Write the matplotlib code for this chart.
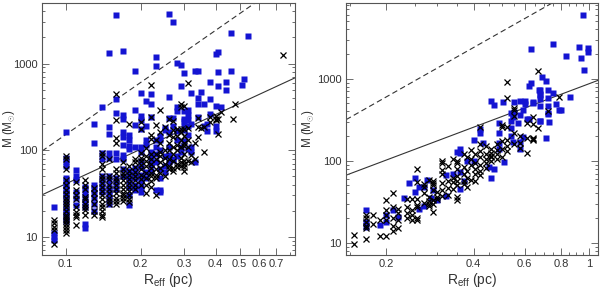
import matplotlib
matplotlib.use("Agg")
import matplotlib.pyplot as plt
from matplotlib.ticker import FixedLocator, NullFormatter

# --- data: (R_eff [pc], [M values]) grouped by radius ---
left_blue = [
    (0.09, [22, 11, 10, 9.2]),
    (0.10, [163, 82, 72, 66, 48, 44, 40, 37, 33, 30, 27, 24, 21, 19, 17, 15]),
    (0.11, [59, 50, 45, 33, 28, 23]),
    (0.12, [38, 33, 29, 25, 22, 14, 12.5]),
    (0.13, [200, 120, 40, 36, 32, 28, 24, 20]),
    (0.14, [314, 93, 80, 50, 44, 38, 33]),
    (0.15, [1320, 184, 155, 93, 82, 50, 44, 38, 34, 30, 27, 24]),
    (0.16, [3660, 390, 270, 92, 80, 48, 42, 36]),
    (0.17, [1390, 256, 228, 160, 140, 115, 88, 78, 60, 50]),
    (0.18, [150, 130, 112, 102, 58, 50, 44, 38, 30, 23]),
    (0.19, [810, 287, 196, 110, 62, 55, 48, 40, 35]),
    (0.20, [455, 245, 220, 175, 110, 96, 75, 64, 52, 44, 38, 33]),
    (0.21, [365, 190, 130, 115, 56, 48]),
    (0.22, [445, 340, 240, 96, 85, 77, 67, 58]),
    (0.23, [1190, 925, 130, 110, 90, 72, 35]),
    (0.24, [144, 130, 100, 60, 48, 35, 33]),
    (0.25, [180, 170, 85, 65, 56]),
    (0.26, [3750, 416, 236, 160, 110, 88, 72]),
    (0.27, [2990, 236, 190, 80, 76]),
    (0.28, [1010, 315, 280, 165, 130, 85]),
    (0.29, [965, 555, 110, 96]),
    (0.30, [770, 285, 230, 215, 190, 170, 128]),
    (0.31, [290, 255, 220, 190, 150, 103]),
    (0.32, [460, 200, 110, 96]),
    (0.33, [830, 73]),
    (0.34, [830, 405, 345, 240]),
    (0.35, [470]),
    (0.36, [340, 190]),
    (0.37, [200, 165]),
    (0.38, [605, 390, 260]),
    (0.40, [1290, 320, 190, 165]),
    (0.41, [1350, 790, 555]),
    (0.42, [315]),
    (0.44, [620, 490]),
    (0.46, [2270, 810]),
    (0.51, [565]),
    (0.52, [670]),
    (0.54, [2100]),
]

left_black = [
    (0.09, [15.5, 14.3, 13.1, 11.9, 8.3]),
    (0.10, [86, 78, 60, 45, 40, 35, 31, 28, 26, 24, 22, 20, 18, 17, 16, 15, 14, 13, 12, 11]),
    (0.11, [43, 35, 30, 27, 22, 19.5, 17.8, 16.8, 13.7]),
    (0.12, [45, 40, 36, 29, 27, 24, 22, 20.5, 18]),
    (0.13, [37, 32, 28, 24, 20, 18]),
    (0.14, [93, 85, 70, 60, 50, 46, 42, 38, 34, 30, 27, 24, 22, 20, 18, 17]),
    (0.15, [80, 50, 46, 40, 36, 32, 28, 26, 24]),
    (0.16, [445, 224, 139, 121, 60, 54, 48, 44, 40, 36, 32, 28, 26, 24]),
    (0.17, [72, 60, 55, 50, 45, 40, 36, 32, 30, 28, 26]),
    (0.18, [200, 66, 58, 52, 46, 42, 38, 34, 30, 27, 25]),
    (0.19, [80, 72, 64, 56, 50, 45, 40, 36]),
    (0.20, [210, 175, 92, 82, 75, 68, 60, 52, 46, 40]),
    (0.21, [105, 85, 75, 65, 55, 48, 40, 32]),
    (0.22, [570, 240, 150, 135, 90, 80, 70, 62, 55, 50, 44, 38]),
    (0.23, [195, 130, 90, 80, 60, 52, 48, 30]),
    (0.24, [292, 160, 120, 95, 85, 72, 62, 55]),
    (0.25, [185, 100, 82, 70, 50]),
    (0.26, [230, 150, 120, 100, 80, 66, 60]),
    (0.27, [215, 170, 140, 110, 90, 75, 62, 58]),
    (0.28, [175, 145, 115, 100, 70, 64]),
    (0.29, [345, 315, 175, 160, 130, 110, 82, 72, 66]),
    (0.30, [320, 175, 145, 120, 112, 90, 75, 70, 63, 58]),
    (0.31, [595, 180, 130, 110, 75]),
    (0.32, [88, 72]),
    (0.33, [120, 80]),
    (0.34, [235, 185, 140]),
    (0.35, [180]),
    (0.36, [185, 94]),
    (0.38, [240, 210]),
    (0.40, [250, 230, 220]),
    (0.41, [230, 155]),
    (0.42, [275]),
    (0.47, [230]),
    (0.48, [340]),
    (0.745, [1260]),
]

right_blue = [
    (0.17, [25, 18, 15.4]),
    (0.19, [16.4]),
    (0.20, [22, 18]),
    (0.21, [25]),
    (0.22, [20.5]),
    (0.23, [34.8]),
    (0.24, [53]),
    (0.25, [62.5, 41.7]),
    (0.26, [48, 26]),
    (0.27, [48, 28]),
    (0.276, [58]),
    (0.286, [35.5]),
    (0.29, [44]),
    (0.30, [33]),
    (0.32, [68, 37]),
    (0.34, [70]),
    (0.35, [128]),
    (0.36, [141, 123, 73, 45]),
    (0.37, [57]),
    (0.38, [99]),
    (0.40, [180, 100]),
    (0.42, [242, 216]),
    (0.43, [166]),
    (0.45, [84]),
    (0.46, [540, 62]),
    (0.47, [480, 79]),
    (0.49, [290, 220, 163, 138]),
    (0.505, [515]),
    (0.51, [98]),
    (0.54, [380, 310, 249, 200]),
    (0.545, [355, 345, 170]),
    (0.55, [515, 393]),
    (0.57, [286]),
    (0.58, [530, 360, 170, 138]),
    (0.59, [415, 196]),
    (0.60, [540, 490]),
    (0.61, [320]),
    (0.62, [815, 320]),
    (0.63, [2320, 880]),
    (0.64, [515, 500]),
    (0.67, [740]),
    (0.68, [730, 645, 630, 565, 470, 310, 308]),
    (0.69, [1060]),
    (0.71, [945, 190]),
    (0.72, [720, 590, 465, 385, 375]),
    (0.73, [300]),
    (0.75, [2670, 680]),
    (0.77, [490]),
    (0.79, [420]),
    (0.80, [415]),
    (0.83, [1890]),
    (0.86, [600]),
    (0.92, [2430]),
    (0.94, [1790]),
    (0.95, [6040]),
    (0.96, [1280]),
    (0.99, [2390, 2130]),
]

right_black = [
    (0.155, [12.4, 9.7]),
    (0.17, [22, 20, 18, 16, 15, 11]),
    (0.18, [22, 17]),
    (0.19, [19, 12]),
    (0.20, [33, 25, 22, 19, 12]),
    (0.21, [41, 27, 20, 16, 14]),
    (0.22, [26, 23, 19, 15]),
    (0.235, [34, 27, 23, 20]),
    (0.245, [34, 25, 22, 19]),
    (0.255, [80, 55, 34, 29, 27, 20, 19]),
    (0.27, [52, 48, 40, 31]),
    (0.28, [58, 36, 32, 30, 28]),
    (0.29, [57, 54, 51, 44, 33, 30, 24]),
    (0.30, [42, 36, 34]),
    (0.31, [100, 93, 78, 69, 53, 44, 37]),
    (0.325, [87, 57, 47, 38]),
    (0.34, [104, 62, 55, 45]),
    (0.35, [100, 93, 80, 66, 57, 50, 36, 33]),
    (0.37, [120, 85, 70, 57, 52]),
    (0.38, [110, 75, 62, 48]),
    (0.39, [135, 105, 88, 58]),
    (0.405, [120, 93, 80, 70, 57]),
    (0.42, [255, 160, 130, 110, 90, 75, 68]),
    (0.44, [150, 120, 105, 95, 82]),
    (0.46, [140, 125, 115, 110, 100]),
    (0.48, [160, 135, 120, 105]),
    (0.50, [270, 255, 175, 140, 112]),
    (0.52, [920, 576, 255, 180, 150, 130]),
    (0.55, [435, 415, 350, 220, 160]),
    (0.58, [200, 165, 145]),
    (0.61, [286, 190, 123]),
    (0.64, [345, 280, 190, 187, 180]),
    (0.665, [1260, 250]),
    (0.72, [410]),
    (0.79, [595]),
]

# reference relations
thresh_coef, thresh_slope = 15080.0, 2.0    # dashed: 1 g cm^-2
kp_coef, kp_slope = 870.0, 1.33             # solid


def flatten(groups):
    xs, ys = [], []
    for r, ms in groups:
        for m in ms:
            xs.append(r)
            ys.append(m)
    return xs, ys


blue = '#1414d2'
txt = '#333333'
plt.rcParams['font.family'] = ['Liberation Sans', 'DejaVu Sans']
plt.rcParams['mathtext.fontset'] = 'custom'
plt.rcParams['mathtext.rm'] = 'Liberation Sans'
plt.rcParams['mathtext.it'] = 'Liberation Sans'

fig = plt.figure(figsize=(6.0, 2.91), dpi=100)
ax1 = fig.add_axes([42 / 600, 1 - 255 / 291, 253 / 600, 252 / 291])
ax2 = fig.add_axes([346 / 600, 1 - 255 / 291, 252 / 600, 252 / 291])

panels = [
    (ax1, left_blue, left_black, (0.0804, 0.834), (6.15, 5000),
     [0.1, 0.2, 0.3, 0.4, 0.5, 0.6, 0.7], ['0.1', '0.2', '0.3', '0.4', '0.5', '0.6', '0.7'], [0.8],
     -0.10),
    (ax2, right_blue, right_black, (0.145, 1.074), (7.1, 8400),
     [0.2, 0.4, 0.6, 0.8, 1.0], ['0.2', '0.4', '0.6', '0.8', '1'],
     [0.15, 0.25, 0.3, 0.35, 0.45, 0.5, 0.55, 0.65, 0.7, 0.75, 0.85, 0.9, 0.95],
     -0.12),
]

for ax, bl, bk, xl, yl, xt, xtl, xminor, ylab_x in panels:
    bx, by = flatten(bl)
    kx, ky = flatten(bk)
    ax.set_xscale('log')
    ax.set_yscale('log')
    ax.plot(bx, by, 's', color=blue, ms=4.2, mec='none', zorder=2)
    ax.plot(kx, ky, 'x', color='black', ms=4.0, mew=0.9, zorder=3)

    xx = [xl[0], xl[1]]
    ax.plot(xx, [thresh_coef * v ** thresh_slope for v in xx], '--', color='#333333',
            lw=0.8, dashes=(5, 3), zorder=1)
    ax.plot(xx, [kp_coef * v ** kp_slope for v in xx], '-', color='#333333', lw=0.8, zorder=1)

    ax.set_xlim(*xl)
    ax.set_ylim(*yl)
    ax.xaxis.set_major_locator(FixedLocator(xt))
    ax.set_xticklabels(xtl)
    ax.xaxis.set_minor_locator(FixedLocator(xminor))
    ax.xaxis.set_minor_formatter(NullFormatter())
    ax.yaxis.set_major_locator(FixedLocator([10, 100, 1000]))
    ax.set_yticklabels(['10', '100', '1000'])
    ax.yaxis.set_minor_locator(FixedLocator([k * d for d in (1, 10, 100, 1000) for k in range(2, 10)]))
    ax.yaxis.set_minor_formatter(NullFormatter())
    ax.tick_params(which='both', direction='in', top=True, right=True,
                   labelsize=8, labelcolor=txt, color='#555555', width=0.6, pad=3)
    ax.tick_params(which='major', length=5)
    ax.tick_params(which='minor', length=2.5)
    for s in ax.spines.values():
        s.set_color('#555555')
        s.set_linewidth(0.8)
    ax.set_xlabel(r'R$_{\rm eff}$ (pc)', fontsize=10, color=txt, labelpad=1)
    ax.set_ylabel(r'M (M$_{\odot}$)', fontsize=8.5, color=txt)
    ax.yaxis.set_label_coords(ylab_x, 0.5)

fig.savefig('out.png', dpi=100)
